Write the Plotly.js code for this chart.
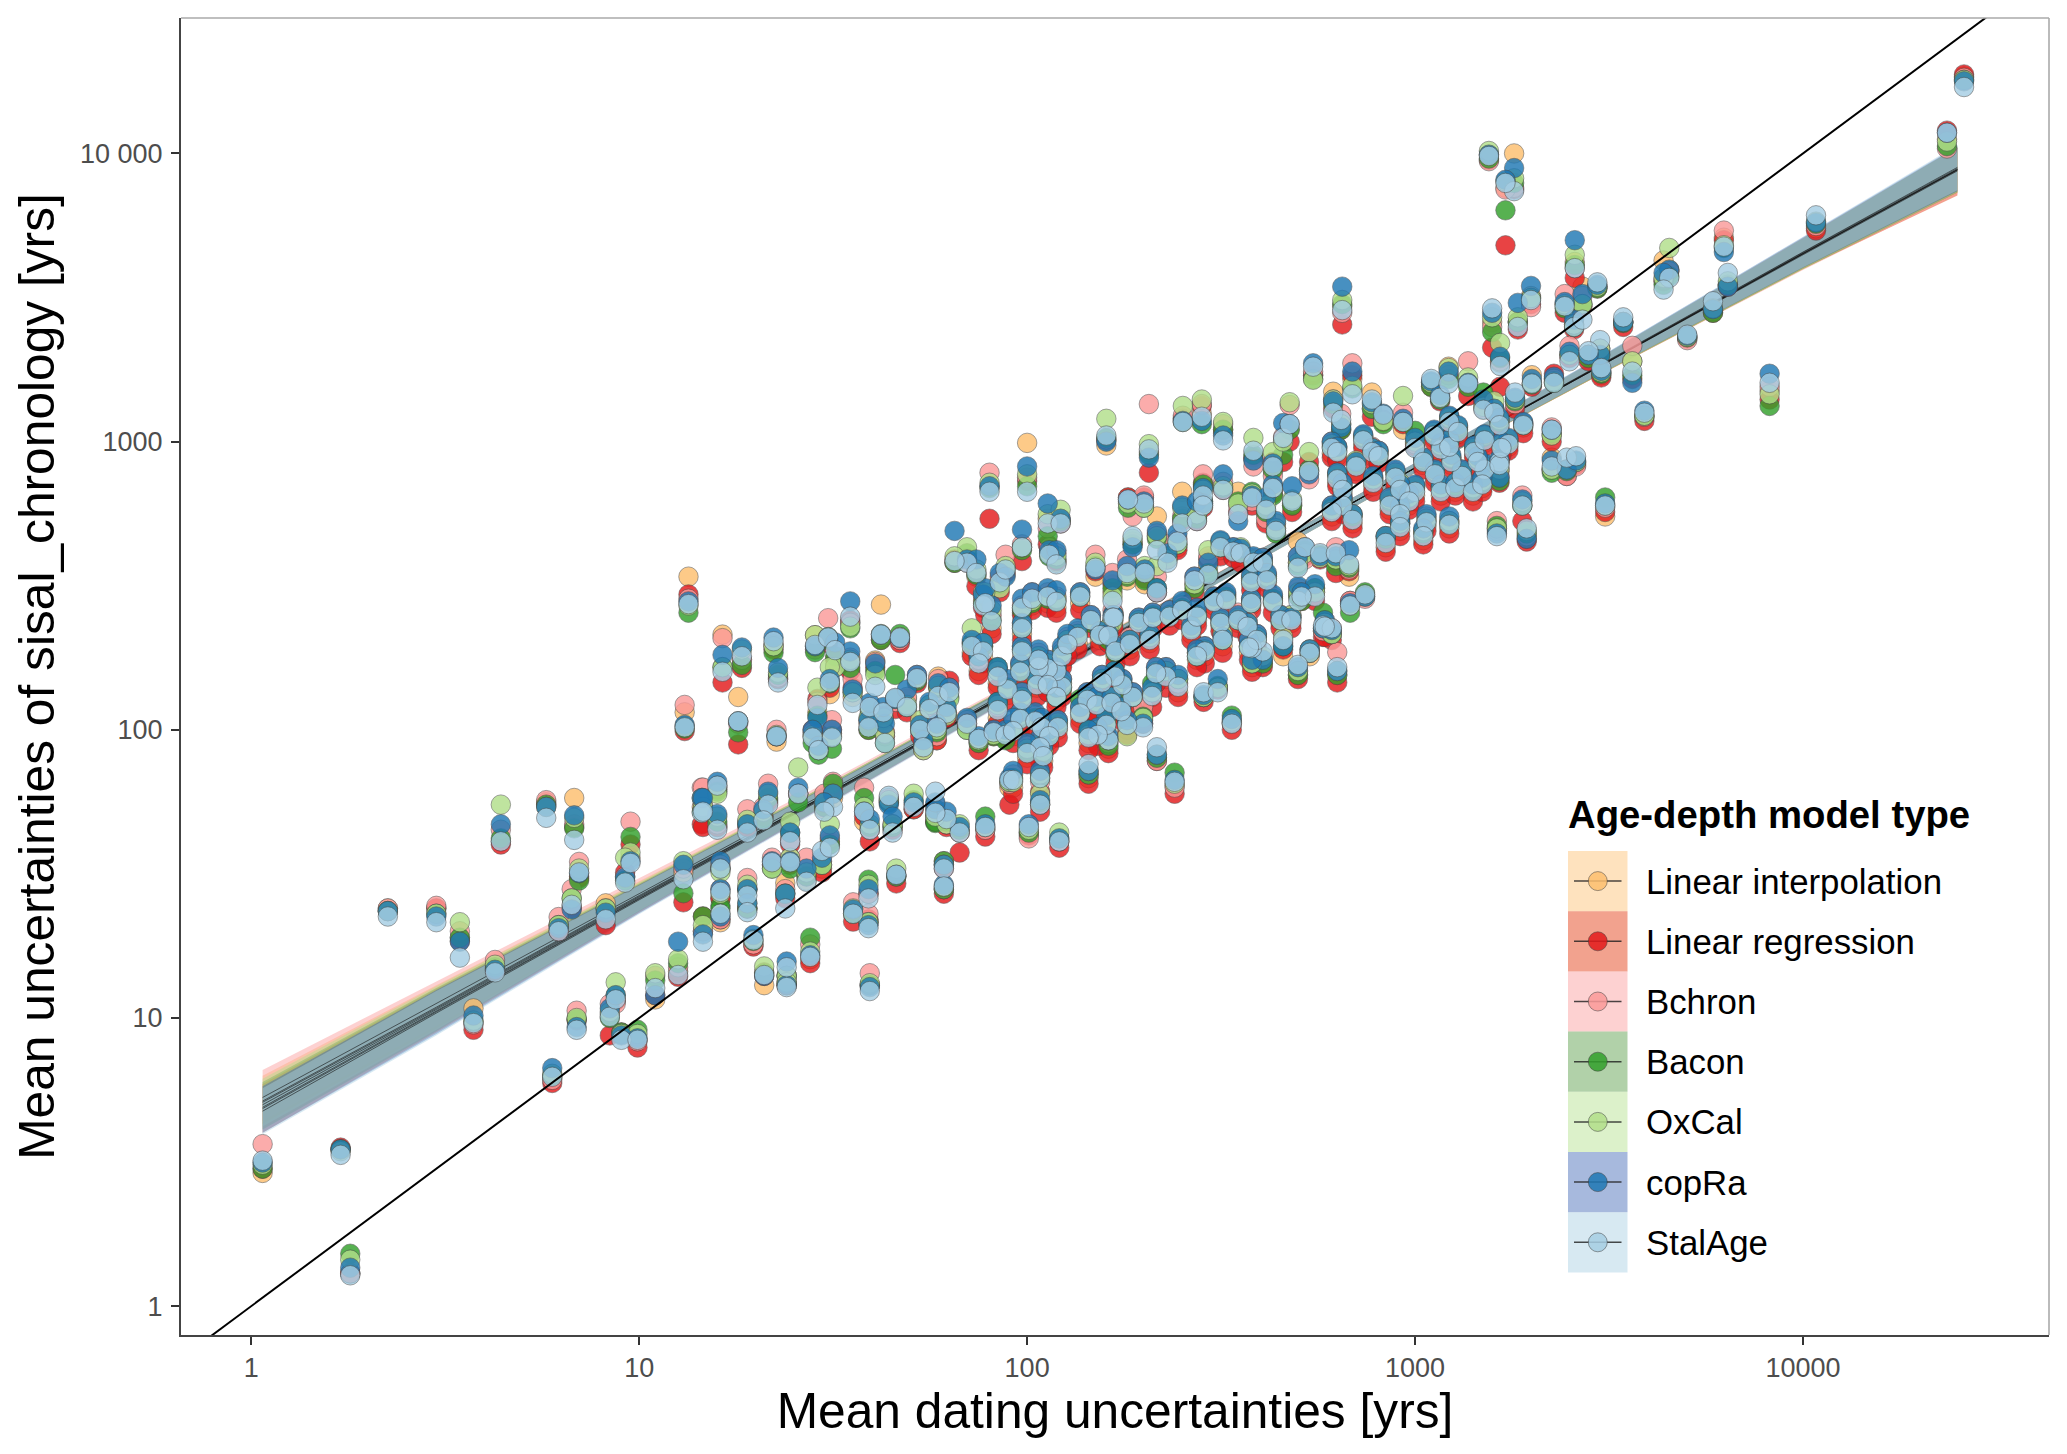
<!DOCTYPE html>
<html><head><meta charset="utf-8">
<script src="https://cdn.plot.ly/plotly-3.0.1.min.js"></script>
<style>html,body{margin:0;padding:0;background:#fff}</style></head>
<body><div id="chart" style="width:2067px;height:1454px"></div>
<script>
// Mean dating uncertainty per speleothem [yrs], in six regions
const datingA=[1.07,1.7,1.8,2.25,3,3.45,3.74,4.25,4.4,5.76,
5.97,6.2,6.7,6.8,7,6.9,8.2,8.4,8.7,9,
9.9,9.5,9.2,11,12.6,13,14.5];
const liA=[2.9,3.5,1.3,24,24,19,10.8,14.8,41,56,
6.2,21,24.5,58,31,9.9,25,10.3,11.5,8.9,
8.4,36,31,11.6,14.5,32,54];
const lrA=[3,3.55,1.3,23.5,24,18.5,9.1,14.6,40,55,
5.95,20,24,46,30.5,9.8,21,8.7,11.5,8.8,
7.9,40,32,12,13.9,25.2,47];
const bcA=[3.65,3.5,1.3,24,24.5,20,9.5,15.9,45,57,
6.1,22.4,28,47,34.8,10.6,24,11.2,11.2,8.9,
8.3,48,31,14,15,33,63];
const baA=[3,3.5,1.52,23.5,23,19,9.7,15,42,55,
6.3,21,26,45.5,30,9.9,23.9,10,12,8.9,
9.1,42.5,30,13.5,15.5,27.1,52];
const oxA=[3.1,3.45,1.45,23.5,23,21.5,9.8,15.3,55,54,
6.4,21,26,49.5,33,10,24,10.5,13.3,8.8,
8.8,37.5,36,14.3,16,35,58];
const coA=[3.15,3.5,1.36,23.5,22.5,18.4,10.2,14.7,47,54,
6.7,20.5,23.8,50.5,31.8,9.3,23.2,10.8,12,8.7,
8.5,35,30.7,12,18.4,34,58];
const stA=[3.2,3.35,1.28,22.5,21.5,16.2,9.6,14.4,41,49.5,
6.25,20,24.7,41.5,32,9.1,22,10.1,11.6,8.4,
8.4,34.5,29.5,12.7,14.1,30.3,51.5];

const datingB=[13.4,13.1,16.4,18.4,22.2,22.8,18,22.6,25.7,21.5,
20.9,19,15.9,15.9,14.6,31.6,30,38,44,45,
51,58,28.4,30.7,32,35,42,47,40.6,35,
35.5,31,28.8,28,29,31.4,39,43,39.3,42.6,
45.7,52,49,59,63,56,62,53,54,58.5,
70,75,82,88,70,74,77,85,16.2,16.2,
16.2,14.6,19,19,19.7,22,21,24,24,24.5,
24.5,23.8,27,29.6,27.6,31,35.6,39,39,39.3,
46,61,61,67,62,78,58,39.3];
const liB=[340,115,214,175,198,150,130,91,60,57,
50,48,64,46,55,58,53,48,57,46,
53,53,213,205,165,235,272,205,174,170,
130,133,115,95,85,97,105,95,115,110,
128,150,128,153,138,118,115,103,88,92,
105,90,100,95,395,340,280,330,33,26,
21.5,20,28,24,18,34,13,14,13,35,
42,29.4,30,33,16,40,23,27,21.5,13,
31,34,28,44,47,45,50,45];
const lrB=[295,99,146,164,190,150,89,95,60,56,
50,46,62,46,46,62,54,50,56,45,
53,48,195,200,175,240,205,200,165,160,
140,140,128,100,88,100,100,98,110,112,
118,145,115,140,148,115,110,95,86,92,
103,85,95,93,390,315,265,300,33,26,
22,22.5,28,24,17.7,34,14,13,13,34,
40,26,31,32,15.5,41,21.6,27,22,13,
29.3,33,27,37.5,46,42.6,48,41];
const bcB=[285,122,208,175,195,152,105,100,60,65,
54,53,63,47,63,66,60,63,58,47,
55,55,190,244,165,235,210,205,172,178,
150,145,125,98,90,108,108,95,112,110,
125,155,130,150,140,120,115,100,85,95,
108,92,98,97,380,350,290,340,34,28,
22,20,30.6,24,18,36,14.4,14,13.4,36,
41,28,36,35,18,42,25.2,27,23,14.3,
31,35,28,44,47,45,50,45];
const baB=[255,101,165,168,185,155,98,95,56,58,
49,47,61,48,53,65,54,58,56,46,
57,47.5,186,205,180,225,205,215,160,164,
135,145,112,90,82,86,100,90,112,108,
155,148,120,140,130,122,115,100,88,98,
100,90,95,92,410,345,275,320,33,24.5,
24,22.5,27.8,24,18.5,33,14.3,14,13.2,33,
44,27,31,34,19,40,23,30.2,21.5,13,
31,35,28,45,48,50,48,46];
const oxB=[270,103,165,190,195,158,107,96,74,60,
52,48.7,60,50,54,60,56,54,57,47,
60,51,213,210,165,228,215,210,155,175,
135,165,140,96,85,95,110,97,118,110,
128,150,122,142,128,122,112,108,85,100,
100,92,96,98,430,360,300,310,32,27,
23,21,29,25,18.8,33,15.1,14,13.3,36,
48,27,32,34,17,47,24,29,21.5,13.2,
33,34,28.5,47,47,46,50,47];
const coB=[279,104,182,193,209,164,107,95,63,61,
53,47,66,51,58,60,56,52,55,50,
56,53,195,209,201,279,214,208,170,187,
138,150,110,100,88,100,108,105,124,120,
128,155,138,145,140,125,120,104,92,105,
110,95,100,100,390,390,295,350,35,28,
22.5,19.5,28,25,19.4,35,14,15.7,13,35,
44,27,33,36,16.5,43,23.8,28,21,12.8,
31.4,34,29,46,52,47,56,49];
const stB=[273,102,159,180,203,146,107,95,60,55,
48.5,44,64,45,52,54,52,52,59,44,
54,61,197,209,189,247,214,209,141,172,
124,146,122,94,85,94,102,90,120,115,
129,151,120,131,135,118,114,100,87,102,
105,93,98,96,380,350,270,325,33,27.4,
23,18.4,26.6,23.3,18.6,34.7,14.1,15,12.8,34.7,
41,24,29.7,38,16.3,39,23,26,20.5,12.4,
31.4,33,28.6,44,49,46,51.5,45];

const datingC=[100,113,122,97,88,114,119,160,206,252,
282,320,383,430,430,457,475,533,482,284,
320,380,350,413,438,251,274,284,200,182,
187,216,230,244,150,181,166,166,201,216,
293,270,520,569,625,676,499,500,552,510,
680,743,579,610,457,535,630,499,405,380,
337,285,310,240,216,199,181,144,162,121,
101,108,108,90,80,65];
const liC=[990,540,530,430,345,420,380,970,920,1200,
1250,1070,870,790,700,1020,1100,790,600,700,
700,630,670,560,520,670,550,610,600,640,
450,550,420,430,340,330,300,230,320,300,
370,320,400,400,380,340,450,290,300,285,
275,290,220,215,180,180,155,155,170,165,
105,130,140,64,80,108,100,68,86,41,
44,70,55,63,700,380];
const lrC=[730,440,520,385,350,410,385,1010,780,1200,
1330,1100,880,850,660,850,1000,850,570,720,
680,600,570,520,490,530,530,590,640,640,
440,470,390,420,355,350,320,240,335,300,
390,300,400,390,350,355,380,300,280,280,
280,295,210,205,190,185,146,150,165,159,
100,125,138,60,78,105,96,65,83,39,
43,61,52,55,540,390];
const bcC=[750,500,540,440,405,430,410,1020,1350,1230,
1350,1150,820,760,680,1040,1340,740,610,770,
725,620,600,540,500,550,560,620,650,620,
550,480,440,460,405,390,350,260,360,340,
400,340,390,395,430,360,400,310,310,290,
280,285,220,225,200,190,186,160,175,175,
106,130,140,63,78,120,105,70,90,41,
42,66,55,65,780,380];
const baC=[700,470,530,420,360,400,390,1030,900,1170,
1150,1100,900,800,650,900,1100,800,600,710,
690,670,620,570,480,540,540,620,590,590,
440,460,400,440,370,340,310,240,330,310,
350,310,420,405,370,365,370,290,310,280,
255,300,255,215,195,185,155,155,170,170,
112,130,142,71,80,111,105,70,88,42,
44,68,56,66,690,380];
const oxC=[770,560,580,430,370,410,400,1200,980,1330,
1400,1170,1030,920,690,1000,1370,920,630,680,
700,660,610,600,500,590,560,600,590,610,
460,470,390,440,380,345,290,235,370,370,
420,320,410,395,390,370,380,300,300,290,
270,290,225,215,210,190,160,160,180,170,
107,130,140,65,82,110,95,72,92,44,
45,70,60,66,720,400];
const coC=[820,610,540,495,340,420,420,1000,880,1180,
1180,1050,860,840,710,1160,1150,770,700,690,
770,650,530,640,530,600,620,610,620,630,
430,490,410,480,360,370,330,250,360,310,
380,340,430,400,400,420,400,315,320,300,
275,290,225,222,195,190,160,165,175,175,
109,132,150,67,82,105,108,72,95,42,
47,72,57,68,700,490];
const stC=[670,520,520,430,360,405,375,1050,940,1170,
1220,1010,930,820,690,1030,1150,790,620,650,
680,640,560,580,490,520,530,600,610,630,
470,420,380,450,365,350,280,245,350,300,
345,330,430,410,410,375,365,280,290,290,
270,295,230,225,205,185,165,168,187,192,
105,135,135,66,87,102,104,76,92,41,
46,68,55,67,670,385];

const datingD=[26000,23500,10800,8200,6250,6400,5860,5030,4520,4370,
3900,3630,3440,3020,3000,2800,2500,2570,2700,2950,
2430,2580,1990,1840,1800,1710,1550,1580,1656,649,
546,689,615,645,774,828,931,1000,1100,1160,
1220,1370,1500,1600,1810,2000,2280,1890,2250,2250,
2460,2600,3090,1625,1940,1650];
const liD=[18500,11200,5500,1500,5100,3500,2850,2300,3950,4250,
1220,1900,2600,1700,2100,2000,2000,2750,3450,3450,
3000,4200,3200,2600,10000,7600,9900,2600,1880,2950,
1700,1650,1490,1150,1480,1190,1100,990,1600,1420,
1820,1600,1350,1300,1400,1700,1650,600,1050,880,
800,840,550,490,460,750];
const lrD=[18800,12000,5400,1400,5000,3450,2800,2280,3900,3600,
1180,1650,2500,1670,2050,1900,1950,2450,2950,3400,
2800,3700,3000,2450,7500,4800,9500,2120,1550,2550,
1700,1700,1300,1100,1220,1170,1150,960,1550,1380,
1700,1440,1380,1260,1300,1550,1720,530,1000,800,
760,830,570,500,450,720];
const bcD=[18300,10400,5600,1550,5400,3500,2850,2250,3900,3650,
1220,2150,2600,1730,2100,2000,2150,2550,3200,3450,
3250,4000,2930,2600,7600,7500,9400,2500,1900,2800,
1750,1870,1400,1250,1300,1190,1260,980,1600,1400,
1700,1900,1300,1300,1350,1580,1650,650,1120,800,
760,820,590,530,470,760];
const baD=[18000,10600,5700,1330,4700,3500,2800,2300,3750,3500,
1230,1700,2580,1720,2000,1950,2000,2500,3000,3400,
2900,4100,3150,2600,7900,6350,9600,2400,1950,3000,
1650,1530,1350,1100,1300,1150,1170,1090,1550,1400,
1650,1550,1480,1280,1380,1580,1600,600,1070,780,
790,850,640,510,480,730];
const oxD=[18000,11000,5800,1460,4800,3600,2900,2310,4700,3700,
1230,1900,2600,1740,2100,2000,2000,2550,3000,3450,
3000,4450,3150,2700,8200,8000,10200,2700,2200,3100,
1640,1560,1400,1150,1350,1180,1440,1000,1600,1420,
1800,1670,1320,1380,1400,1600,1620,620,1050,800,
800,850,600,500,490,800];
const coD=[17800,11800,5750,1720,4550,3450,2880,2330,3950,3850,
1280,1600,2600,1760,2000,2000,2050,2650,3250,3500,
3050,5000,3470,3030,8900,8100,9900,2800,1970,3450,
1870,1750,1380,1120,1370,1250,1200,1030,1620,1450,
1750,1600,1400,1300,1420,1650,1680,630,1100,860,
800,860,610,480,460,750];
const stD=[17000,11800,6100,1600,4750,3850,3070,2350,3700,3370,
1260,1750,2700,1800,2250,2060,1900,2500,2650,3570,
2950,4000,3100,2500,7400,7900,9800,2900,1830,2860,
1820,1460,1260,1190,1400,1240,1170,950,1650,1420,
1590,1590,1290,1260,1480,1590,1600,600,1100,820,
880,890,600,470,500,850];

const datingE=[146,167,154,162,169,184,194,211,233,251,
207,265,274,303,315,319,287,274,350,370,
391,373,326,378,430,450,480,585,315,340,
355,383,405,378,415,228,245,215,210,187,
176,168,156,143,151,165,175,160,152,144,
137,123,119,113,107,96,89,106,113,119,
97,96,105,92,109,120,114,108,100,110,
92,610,630,735,775,805,705,630,650,650,
610,690,780,890,1000,915,965,860,915,915,
1070,1050,1225,840,1050,1125,1165,1270,1320,1240,
1165,1225,1120,1225,1290,1420,1510,1510,1450,1410,
1490,1650,1740,1670,1650,1900];
const liE=[235,240,205,205,180,190,225,240,245,250,
200,215,240,270,230,195,180,175,235,220,
200,185,275,270,275,235,235,220,420,410,
400,370,375,320,325,150,135,150,130,125,
140,150,140,125,118,120,112,100,94,90,
110,135,155,160,160,155,132,140,140,126,
122,105,103,95,98,100,92,84,80,78,
63,910,890,980,890,860,790,720,660,580,
550,520,700,730,650,660,600,580,545,490,
510,455,500,430,830,750,650,670,740,830,
920,940,1030,1140,1060,900,990,780,830,650,
690,810,960,930,1120,1120];
const lrE=[225,225,195,200,170,180,215,225,230,240,
190,205,230,260,220,185,170,165,225,210,
190,175,265,260,255,225,225,210,400,395,
380,355,360,305,310,140,130,145,120,120,
130,140,135,115,112,115,108,95,88,85,
105,130,150,150,155,145,125,130,135,120,
115,100,98,90,92,94,88,78,76,74,
60,880,860,950,860,840,770,700,640,560,
530,500,670,700,620,640,580,560,520,470,
490,440,480,415,800,720,620,650,720,810,
890,920,1000,1110,1030,880,960,750,800,620,
670,790,930,900,1090,1070];
const bcE=[250,255,220,220,195,210,245,255,260,270,
215,240,250,290,245,215,195,185,255,240,
215,205,295,285,290,250,250,240,450,430,
420,395,395,340,345,165,145,165,135,135,
150,160,155,135,130,130,125,110,100,98,
120,150,170,175,175,170,145,150,150,135,
135,115,112,105,108,108,100,90,88,85,
70,1000,960,1050,960,930,850,780,710,630,
600,560,750,790,700,710,650,640,590,530,
550,490,530,470,880,800,700,710,800,880,
980,1010,1090,1220,1120,960,1050,830,880,700,
740,860,1010,980,1180,1160];
const baE=[235,250,215,205,185,200,240,250,250,265,
210,225,250,285,235,205,190,180,240,230,
210,195,290,275,285,240,245,235,430,420,
415,380,380,330,335,160,150,155,145,130,
145,160,150,130,125,125,125,108,98,100,
128,140,165,170,170,160,140,150,150,130,
130,110,110,100,104,104,96,88,84,82,
68,960,950,1030,940,900,830,760,690,610,
590,550,740,770,690,690,640,620,580,520,
530,480,520,460,860,790,690,700,780,870,
960,1000,1060,1200,1100,950,1040,820,870,680,
720,850,1000,970,1170,1140];
const oxE=[240,250,215,225,190,205,240,245,250,260,
210,225,250,280,240,215,190,185,245,235,
210,195,285,280,280,250,250,235,450,425,
430,390,385,335,340,160,150,160,135,130,
145,155,150,130,125,130,118,105,100,96,
115,145,160,170,170,165,140,150,145,130,
130,112,108,100,106,106,98,90,86,84,
66,980,930,1040,950,920,860,770,700,620,
580,560,740,780,700,720,640,630,580,520,
540,490,530,470,870,790,690,720,790,880,
970,1010,1080,1210,1130,950,1050,820,870,690,
730,850,1020,980,1190,1150];
const coE=[250,250,220,215,195,205,245,255,260,280,
215,230,265,290,245,210,195,190,250,235,
215,205,300,285,295,250,245,240,455,430,
425,400,395,345,350,165,155,165,140,135,
150,160,155,135,130,130,120,112,102,100,
120,150,165,175,175,170,150,155,150,140,
135,115,115,110,110,108,100,94,90,88,
72,1000,960,1060,950,930,850,780,720,640,
600,560,760,800,710,710,660,640,600,530,
560,500,550,470,880,800,710,720,800,900,
990,1020,1100,1230,1140,970,1060,840,890,710,
750,870,1030,1000,1210,1170];
const stE=[240,245,213,212,187,198,235,245,247,260,
205,222,247,278,235,205,187,180,240,228,
205,193,282,275,278,240,240,228,430,415,
410,380,380,325,330,153,141,157,131,130,
143,153,146,127,122,124,116,104,96,94,
114,141,160,163,165,159,138,143,143,130,
127,109,107,99,102,102,95,87,83,81,
67,950,920,1010,920,890,820,740,680,600,
570,535,720,750,670,680,620,600,560,505,
525,470,515,445,850,770,670,690,760,850,
940,960,1050,1170,1080,920,1010,800,850,670,
710,830,980,950,1140,1140];

const datingF=[97,103,97,113,119,137,135,123,107,97,
127,72,77,75,78,81,84,84];
const liF=[255,270,215,275,265,275,200,170,165,178,
190,185,178,160,265,225,145,110];
const lrF=[250,260,205,265,255,260,190,165,160,170,
180,180,170,155,250,215,140,105];
const bcF=[270,300,235,300,290,300,220,190,185,195,
210,200,195,175,280,250,160,120];
const baF=[260,275,225,285,280,290,215,185,180,190,
205,200,195,180,290,240,165,125];
const oxF=[265,280,230,290,285,295,215,185,180,190,
205,225,200,185,300,260,160,122];
const coF=[285,300,235,310,305,300,225,195,190,195,
215,205,200,180,310,270,165,125];
const stF=[265,285,225,290,278,290,210,180,175,187,
198,195,187,170,275,238,153,117];

const dating=[...datingA,...datingB,...datingC,...datingD,...datingE,...datingF];
const linearInterpolation=[...liA,...liB,...liC,...liD,...liE,...liF];
const linearRegression=[...lrA,...lrB,...lrC,...lrD,...lrE,...lrF];
const bchron=[...bcA,...bcB,...bcC,...bcD,...bcE,...bcF];
const bacon=[...baA,...baB,...baC,...baD,...baE,...baF];
const oxcal=[...oxA,...oxB,...oxC,...oxD,...oxE,...oxF];
const copra=[...coA,...coB,...coC,...coD,...coE,...coF];
const stalage=[...stA,...stB,...stC,...stD,...stE,...stF];

// Regression fit and confidence band per model
const bandX=[1.07,3,10,30,100,300,1000,3000,10000,25000];
const fitLI=[5.15,10.9,26.6,59,146,328,810,1825,4480,8750];
const fitLR=[4.9,10.6,26,58.5,145,328,810,1830,4500,8800];
const fitBc=[5.3,11.2,27,60,148,330,810,1825,4450,8700];
const fitBa=[5,10.7,26.2,59,146,328,810,1830,4490,8780];
const fitOx=[5.1,10.8,26.4,59,146,328,810,1830,4490,8790];
const fitCo=[4.85,10.5,25.9,58.5,145,328,812,1840,4530,8870];
const fitSt=[4.75,10.4,25.7,58,144,326,812,1845,4550,8950];
const hiLI=[6.3,13,29.8,63.7,153,341,842,1950,5060,10500];
const loLI=[4.3,9.2,23.8,54.6,139,315,780,1705,3960,7300];
const hiLR=[5.9,12.6,29.1,63,152,341,842,1958,5090,10500];
const loLR=[4,8.9,23.2,54.2,138,315,780,1710,3980,7150];
const hiBc=[6.6,13.4,30.5,65,155,343,842,1950,5030,10400];
const loBc=[4.4,9.4,24.1,55.5,141,317,780,1705,3940,7250];
const hiBa=[6,12.7,29.3,63.7,153,341,842,1958,5070,10500];
const loBa=[4.1,9,23.4,54.6,139,315,780,1710,3970,7320];
const hiOx=[6.15,12.9,29.6,63.7,153,341,842,1958,5070,10500];
const loOx=[4.2,9.1,23.6,54.6,139,315,780,1710,3970,7330];
const hiCo=[5.8,12.5,29,63,152,341,845,1970,5120,10600];
const loCo=[4,8.8,23.1,54.2,138,315,780,1720,4010,7400];
const hiSt=[5.7,12.4,28.8,62.6,151,339,845,1975,5140,10700];
const loSt=[3.95,8.7,22.9,53.7,137,313,780,1725,4030,7450];
const identityLine=[0.5,80000];

const modelNames=['Linear interpolation','Linear regression','Bchron','Bacon','OxCal','copRa','StalAge'];
const pointColors=['#fdbf6f','#e31a1c','#fb9a99','#33a02c','#b2df8a','#1f78b4','#a6cee3'];
const bandColors=['rgba(253,191,111,0.45)','rgba(230,70,30,0.5)','rgba(251,154,153,0.45)','rgba(60,140,40,0.4)','rgba(178,223,138,0.45)','rgba(60,100,180,0.45)','rgba(166,206,227,0.45)'];
const pointSeries=[linearInterpolation,linearRegression,bchron,bacon,oxcal,copra,stalage];
const fits=[fitLI,fitLR,fitBc,fitBa,fitOx,fitCo,fitSt];
const highs=[hiLI,hiLR,hiBc,hiBa,hiOx,hiCo,hiSt];
const lows=[loLI,loLR,loBc,loBa,loOx,loCo,loSt];

const font='"Liberation Sans", Arial, sans-serif';
const W=2067,H=1454,L=181,R=2049,T=18,B=1335;
const traces=[];
modelNames.forEach((n,i)=>{
  traces.push({type:'scatter',mode:'lines',x:[...bandX,...bandX.slice().reverse()],
    y:[...highs[i],...lows[i].slice().reverse()],fill:'toself',fillcolor:bandColors[i],
    line:{width:0},hoverinfo:'skip',showlegend:false,name:n+' CI'});
});
modelNames.forEach((n,i)=>{
  traces.push({type:'scatter',mode:'lines',x:bandX,y:fits[i],line:{color:'rgba(20,20,20,0.6)',width:1},
    showlegend:false,name:n+' fit'});
});
modelNames.forEach((n,i)=>{
  traces.push({type:'scatter',mode:'markers',x:dating,y:pointSeries[i],name:n,showlegend:false,
    marker:{size:19.5,color:pointColors[i],opacity:0.82,line:{color:'rgba(70,70,70,0.75)',width:0.8}}});
});
traces.push({type:'scatter',mode:'lines',x:identityLine,y:identityLine,line:{color:'#000',width:2},showlegend:false,name:'1:1'});

const px=X=>(X-L)/(R-L), py=Y=>1-(Y-T)/(B-T);
const shapes=[
  {type:'line',xref:'paper',yref:'paper',x0:0,x1:1,y0:1,y1:1,line:{color:'#aaaaaa',width:1.6}},
  {type:'line',xref:'paper',yref:'paper',x0:1,x1:1,y0:0,y1:1,line:{color:'#aaaaaa',width:1.6}}
];
const annotations=[
  {xref:'paper',yref:'paper',x:px(1566),y:py(814),xanchor:'left',yanchor:'middle',showarrow:false,
   text:'<b>Age-depth model type</b>',font:{family:font,size:38.3,color:'#000'}}
];
modelNames.forEach((n,i)=>{
  const y0=851+i*60.2,yc=y0+30.1;
  shapes.push({type:'rect',xref:'paper',yref:'paper',x0:px(1568),x1:px(1627.5),y0:py(y0),y1:py(y0+60.2),
    fillcolor:bandColors[i],line:{width:0}});
  shapes.push({type:'line',xref:'paper',yref:'paper',x0:px(1574),x1:px(1621.5),y0:py(yc),y1:py(yc),
    line:{color:'rgba(30,30,30,0.8)',width:1.5}});
  shapes.push({type:'circle',xref:'paper',yref:'paper',x0:px(1588.3),x1:px(1607.3),y0:py(yc-9.5),y1:py(yc+9.5),
    fillcolor:pointColors[i],opacity:0.85,line:{color:'rgba(50,50,50,0.7)',width:0.8}});
  annotations.push({xref:'paper',yref:'paper',x:px(1644),y:py(yc),xanchor:'left',yanchor:'middle',showarrow:false,
    text:n,font:{family:font,size:34.8,color:'#000'}});
});

const tickVals=[1,10,100,1000,10000];
const layout={width:W,height:H,paper_bgcolor:'#fff',plot_bgcolor:'#fff',showlegend:false,
  margin:{l:L,r:W-R,t:T,b:H-B,pad:0},font:{family:font},
  xaxis:{type:'log',range:[-0.181,4.634],tickmode:'array',tickvals:tickVals,ticktext:['1','10','100','1000','10000'],
    showgrid:false,zeroline:false,showline:true,linecolor:'#444',linewidth:2,ticks:'outside',ticklen:8,tickwidth:2,tickcolor:'#333',
    tickfont:{family:font,size:27,color:'#4d4d4d'},
    title:{text:'Mean dating uncertainties [yrs]',font:{family:font,size:49.7,color:'#000'},standoff:10}},
  yaxis:{type:'log',range:[-0.10,4.47],tickmode:'array',tickvals:tickVals,ticktext:['1','10','100','1000','10 000'],
    showgrid:false,zeroline:false,showline:true,linecolor:'#444',linewidth:2,ticks:'outside',ticklen:8,tickwidth:2,tickcolor:'#333',ticklabelstandoff:3,
    tickfont:{family:font,size:27,color:'#4d4d4d'},
    title:{text:'Mean uncertainties of sisal_chronology [yrs]',font:{family:font,size:49.7,color:'#000'},standoff:10}},
  shapes,annotations};
Plotly.newPlot('chart',traces,layout,{staticPlot:true,displayModeBar:false});
</script></body></html>
